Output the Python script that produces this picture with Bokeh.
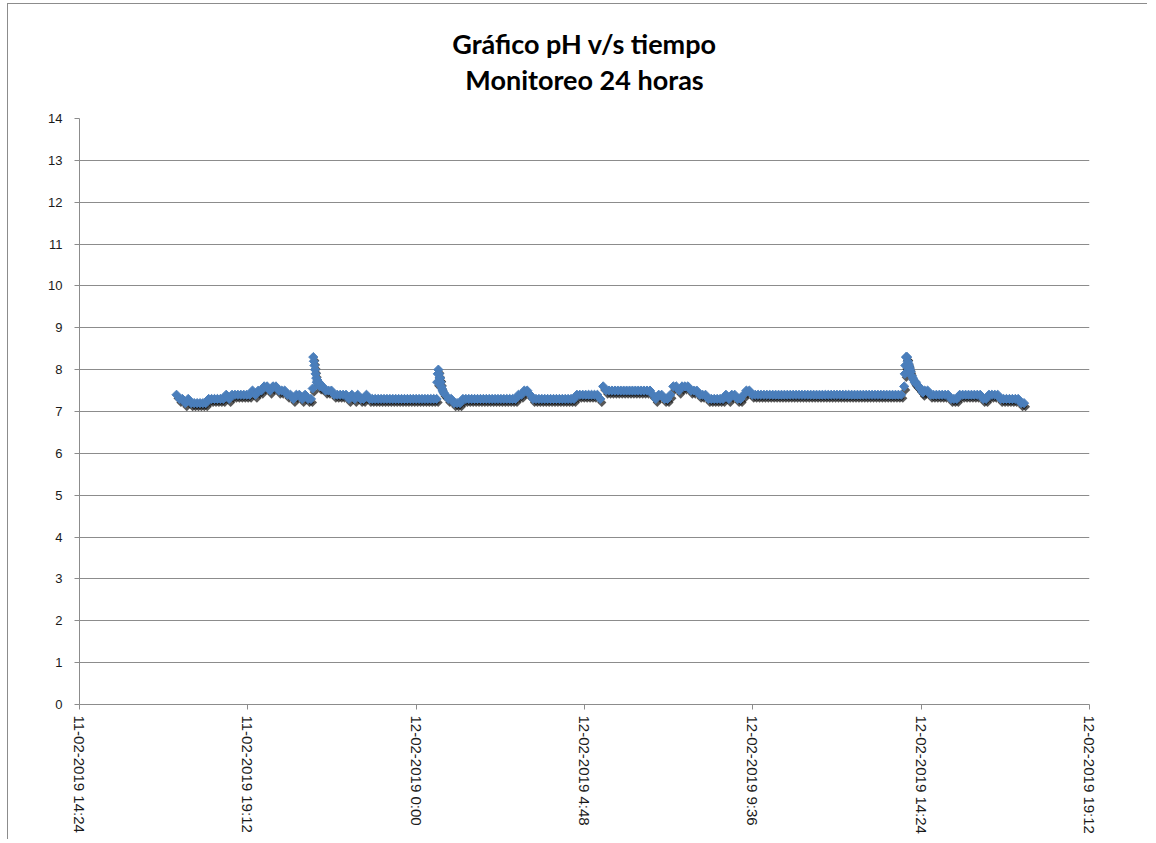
import math
import pandas as pd
from bokeh.plotting import figure
from bokeh.models import ColumnDataSource, FixedTicker, Range1d, Title
from bokeh.embed import file_html
from bokeh.resources import INLINE

# ---------------- data ----------------
title_line1 = "Gráfico pH v/s tiempo"
title_line2 = "Monitoreo 24 horas"

axis_origin = "2019-02-11 14:24"
x_tick_times = ["2019-02-11 14:24", "2019-02-11 19:12", "2019-02-12 00:00",
                "2019-02-12 04:48", "2019-02-12 09:36", "2019-02-12 14:24",
                "2019-02-12 19:12"]
x_tick_labels = ["11-02-2019 14:24", "11-02-2019 19:12", "12-02-2019 0:00",
                 "12-02-2019 4:48", "12-02-2019 9:36", "12-02-2019 14:24",
                 "12-02-2019 19:12"]
y_ticks = list(range(0, 15))

# pH readings every 5 minutes, starting 11-02-2019 17:10 (one row = one hour)
base_start = "2019-02-11 17:10"
base_step_minutes = 5
ph_5min = [
    7.4, 7.3, 7.3, 7.2, 7.3, 7.2, 7.2, 7.2, 7.2, 7.2, 7.2, 7.3,   # 17:10
    7.3, 7.3, 7.3, 7.3, 7.3, 7.4, 7.3, 7.4, 7.4, 7.4, 7.4, 7.4,   # 18:10
    7.4, 7.4, 7.5, 7.4, 7.5, 7.5, 7.6, 7.6, 7.5, 7.6, 7.6, 7.5,   # 19:10
    7.5, 7.5, 7.4, 7.4, 7.3, 7.4, 7.4, 7.3, 7.4, 7.3, 7.3, 8.2,   # 20:10
    7.7, 7.6, 7.6, 7.5, 7.5, 7.5, 7.4, 7.4, 7.4, 7.4, 7.4, 7.3,   # 21:10
    7.4, 7.3, 7.4, 7.3, 7.3, 7.4, 7.3, 7.3, 7.3, 7.3, 7.3, 7.3,   # 22:10
    7.3, 7.3, 7.3, 7.3, 7.3, 7.3, 7.3, 7.3, 7.3, 7.3, 7.3, 7.3,   # 23:10
    7.3, 7.3, 7.3, 7.3, 7.3, 7.3, 7.8, 7.5, 7.4, 7.3, 7.3, 7.2,   # 00:10
    7.2, 7.2, 7.3, 7.3, 7.3, 7.3, 7.3, 7.3, 7.3, 7.3, 7.3, 7.3,   # 01:10
    7.3, 7.3, 7.3, 7.3, 7.3, 7.3, 7.3, 7.3, 7.3, 7.4, 7.4, 7.5,   # 02:10
    7.5, 7.4, 7.3, 7.3, 7.3, 7.3, 7.3, 7.3, 7.3, 7.3, 7.3, 7.3,   # 03:10
    7.3, 7.3, 7.3, 7.3, 7.3, 7.4, 7.4, 7.4, 7.4, 7.4, 7.4, 7.4,   # 04:10
    7.4, 7.3, 7.6, 7.5, 7.5, 7.5, 7.5, 7.5, 7.5, 7.5, 7.5, 7.5,   # 05:10
    7.5, 7.5, 7.5, 7.5, 7.5, 7.5, 7.5, 7.4, 7.3, 7.4, 7.4, 7.3,   # 06:10
    7.3, 7.4, 7.6, 7.6, 7.5, 7.6, 7.6, 7.6, 7.5, 7.5, 7.5, 7.4,   # 07:10
    7.4, 7.4, 7.3, 7.3, 7.3, 7.3, 7.3, 7.3, 7.4, 7.3, 7.4, 7.4,   # 08:10
    7.3, 7.3, 7.4, 7.5, 7.5, 7.4, 7.4, 7.4, 7.4, 7.4, 7.4, 7.4,   # 09:10
    7.4, 7.4, 7.4, 7.4, 7.4, 7.4, 7.4, 7.4, 7.4, 7.4, 7.4, 7.4,   # 10:10
    7.4, 7.4, 7.4, 7.4, 7.4, 7.4, 7.4, 7.4, 7.4, 7.4, 7.4, 7.4,   # 11:10
    7.4, 7.4, 7.4, 7.4, 7.4, 7.4, 7.4, 7.4, 7.4, 7.4, 7.4, 7.4,   # 12:10
    7.4, 7.4, 7.4, 7.4, 7.4, 7.4, 7.4, 7.4, 7.4, 7.6, 8.3, 8.0,   # 13:10
    7.8, 7.7, 7.6, 7.5, 7.5, 7.5, 7.4, 7.4, 7.4, 7.4, 7.4, 7.4,   # 14:10
    7.4, 7.3, 7.3, 7.3, 7.4, 7.4, 7.4, 7.4, 7.4, 7.4, 7.4, 7.4,   # 15:10
    7.3, 7.3, 7.4, 7.4, 7.4, 7.4, 7.3, 7.3, 7.3, 7.3, 7.3, 7.3,   # 16:10
    7.3, 7.2, 7.2,                                                # 17:10
]

# extra per-minute readings during the three fast transients
spike_times = [
    "2019-02-11 21:03", "2019-02-11 21:04", "2019-02-11 21:06", "2019-02-11 21:07",
    "2019-02-11 21:08", "2019-02-11 21:09", "2019-02-11 21:11", "2019-02-11 21:13",
    "2019-02-11 21:16", "2019-02-11 21:18",
    "2019-02-12 00:36", "2019-02-12 00:37", "2019-02-12 00:38", "2019-02-12 00:39",
    "2019-02-12 00:41", "2019-02-12 00:42", "2019-02-12 00:43", "2019-02-12 00:44",
    "2019-02-12 00:47",
    "2019-02-12 13:56", "2019-02-12 13:57", "2019-02-12 13:58", "2019-02-12 13:59",
    "2019-02-12 14:01", "2019-02-12 14:02", "2019-02-12 14:03", "2019-02-12 14:04",
    "2019-02-12 14:06", "2019-02-12 14:08", "2019-02-12 14:11", "2019-02-12 14:13",
    "2019-02-12 14:16", "2019-02-12 14:22", "2019-02-12 14:27",
]
spike_ph = [
    7.55, 8.3, 8.1, 8.0, 7.9, 7.8, 7.75, 7.7, 7.65, 7.6,
    7.7, 7.9, 8.0, 7.9, 7.8, 7.7, 7.6, 7.55, 7.45,
    7.9, 8.1, 8.3, 8.3, 8.2, 8.15, 8.1, 8.05, 7.95, 7.85, 7.75, 7.7, 7.65, 7.55, 7.45,
]

# ---------------- build ----------------
origin = pd.Timestamp(axis_origin)
def to_minutes(ts):
    return ((pd.to_datetime(pd.Series(ts)) - origin) / pd.Timedelta(minutes=1)).tolist()

base_times = pd.date_range(base_start, periods=len(ph_5min), freq=f"{base_step_minutes}min")
xs = to_minutes(base_times) + to_minutes(spike_times)
ys = list(ph_5min) + list(spike_ph)
x_ticks = [int(round(v)) for v in to_minutes(x_tick_times)]

W, H = 1140, 836
ML, MR, MT, MB = 71, 59, 114, 136
frame_w, frame_h = W - ML - MR, H - MT - MB
x_max = x_ticks[-1]
y_max = y_ticks[-1]
px_per_min = frame_w / x_max
px_per_unit = frame_h / y_max
shadow_dx = 1.5 / px_per_min
shadow_dy = 3.5 / px_per_unit

src = ColumnDataSource(dict(x=xs, y=ys))
shadow = ColumnDataSource(dict(x=[v + shadow_dx for v in xs], y=[v - shadow_dy for v in ys]))

p = figure(width=W, height=H, x_range=Range1d(0, x_max), y_range=Range1d(0, y_max),
           output_backend="svg", toolbar_location=None,
           min_border_left=ML, min_border_right=MR, min_border_top=MT, min_border_bottom=MB,
           styles={"border-top": "1px solid #8c8c8c", "border-left": "1px solid #8c8c8c",
                   "margin-left": "7px", "margin-top": "3px"})
p.outline_line_color = None
p.background_fill_color = "white"
p.border_fill_color = "white"

TITLE_FONT = "Lato"
# outermost line
p.title.text = title_line1
p.title.align = "center"
p.title.text_font = TITLE_FONT
p.title.text_font_size = "27px"
p.title.text_font_style = "bold"
p.title.text_color = "black"
p.title.standoff = 2
# empty spacer next to the plot area (first added = closest to the frame)
p.add_layout(Title(text=" ", text_font_size="1px", standoff=20), "above")
# second title line
p.add_layout(Title(text=title_line2, align="center", text_font=TITLE_FONT,
                   text_font_size="27px", text_font_style="bold", text_color="black",
                   standoff=0), "above")

p.scatter("x", "y", source=shadow, marker="square", size=6.5, angle=math.pi / 4,
          fill_color="#111111", fill_alpha=0.7, line_color=None)
p.scatter("x", "y", source=src, marker="square", size=6.5, angle=math.pi / 4,
          fill_color="#4A7EBB", line_color="#4A7EBB", line_width=1)

p.xgrid.visible = False
p.ygrid.grid_line_color = "#8c8c8c"
p.ygrid.grid_line_width = 1

p.yaxis.ticker = FixedTicker(ticks=y_ticks, minor_ticks=[])
p.xaxis.ticker = FixedTicker(ticks=x_ticks, minor_ticks=[])
p.xaxis.major_label_overrides = {t: lab for t, lab in zip(x_ticks, x_tick_labels)}
p.xaxis.major_label_orientation = "vertical"

for ax in (p.xaxis, p.yaxis):
    ax.axis_line_color = "#8c8c8c"
    ax.major_tick_line_color = "#8c8c8c"
    ax.major_tick_out = 5
    ax.major_tick_in = 0
    ax.minor_tick_line_color = None
    ax.major_label_text_color = "#1a1a1a"
    ax.major_label_text_font = "Liberation Sans"
p.xaxis.major_label_text_font_size = "15px"
p.xaxis.major_label_standoff = 6
p.yaxis.major_label_text_font_size = "13px"
p.yaxis.major_label_standoff = 12

open("out.html", "w").write(file_html(p, INLINE))
